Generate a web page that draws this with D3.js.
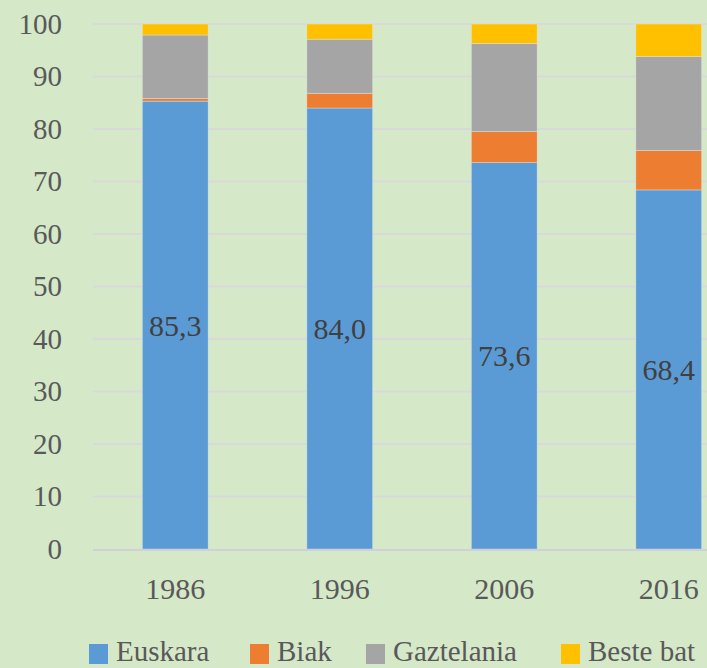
<!DOCTYPE html>
<html>
<head>
<meta charset="utf-8">
<script src="https://cdn.jsdelivr.net/npm/d3@7/dist/d3.min.js"></script>
<style>
    body { margin: 0; background: #d5e8c8; overflow: hidden; }
    svg { display: block; }
    text { font-family: "Liberation Serif", "DejaVu Serif", serif; }
</style>
</head>
<body>
<div id="chart"></div>
<script>
// data
const years = ["1986", "1996", "2006", "2016"];
const seriesNames = ["Euskara", "Biak", "Gaztelania", "Beste bat"];
const euskara = [85.3, 84.0, 73.6, 68.4];
const biak = [0.5, 2.8, 5.9, 7.5];
const gaztelania = [12.1, 10.3, 16.8, 17.9];
const besteBat = [2.1, 2.9, 3.7, 6.2];
const yTicks = [0, 10, 20, 30, 40, 50, 60, 70, 80, 90, 100];
const colors = ["#5b9bd5", "#ed7d31", "#a5a5a5", "#ffc000"];

const width = 707, height = 668;
const margin = { top: 24, left: 93, bottom: 119 };

const svg = d3.select("#chart").append("svg")
    .attr("width", width)
    .attr("height", height);

svg.append("rect")
    .attr("width", width)
    .attr("height", height)
    .attr("fill", "#d5e8c8");

const x = d3.scaleBand()
    .domain(years)
    .range([margin.left, margin.left + 658])
    .paddingInner(0.6)
    .paddingOuter(0.3);

const y = d3.scaleLinear()
    .domain([0, 100])
    .range([height - margin.bottom, margin.top]);

// gridlines
svg.append("g")
    .selectAll("line")
    .data(yTicks.filter(d => d > 0))
    .enter().append("line")
    .attr("x1", margin.left)
    .attr("x2", width)
    .attr("y1", d => y(d))
    .attr("y2", d => y(d))
    .attr("stroke", "#d9d9d9")
    .attr("stroke-width", 2);

// y axis labels
const yAxis = d3.axisLeft(y).tickValues(yTicks).tickSize(0).tickPadding(0);
svg.append("g")
    .attr("transform", "translate(62,0)")
    .call(yAxis)
    .call(g => g.select(".domain").remove())
    .selectAll("text")
    .attr("font-size", 29)
    .attr("fill", "#595959")
    .attr("dy", "0.32em");

// stacked data
const table = years.map((yr, i) => ({
    year: yr,
    "Euskara": euskara[i],
    "Biak": biak[i],
    "Gaztelania": gaztelania[i],
    "Beste bat": besteBat[i]
}));
const stacked = d3.stack().keys(seriesNames)(table);

svg.append("g")
    .selectAll("g")
    .data(stacked)
    .enter().append("g")
    .attr("fill", (d, i) => colors[i])
    .selectAll("rect")
    .data(d => d)
    .enter().append("rect")
    .attr("x", d => x(d.data.year))
    .attr("width", x.bandwidth())
    .attr("y", d => y(d[1]))
    .attr("height", d => y(d[0]) - y(d[1]))
    .attr("stroke", "#e8eef0")
    .attr("stroke-opacity", 0.5)
    .attr("stroke-width", 0.75);

// x axis line
svg.append("line")
    .attr("x1", margin.left)
    .attr("x2", width)
    .attr("y1", y(0) + 1)
    .attr("y2", y(0) + 1)
    .attr("stroke", "#d0d0d8")
    .attr("stroke-width", 2);

// x labels
const xAxis = d3.axisBottom(x).tickSize(0).tickPadding(0);
svg.append("g")
    .attr("transform", "translate(0," + (y(0) + 50) + ")")
    .call(xAxis)
    .call(g => g.select(".domain").remove())
    .selectAll("text")
    .attr("font-size", 30)
    .attr("fill", "#595959")
    .attr("dy", "0");

// data labels for Euskara
svg.append("g")
    .selectAll("text")
    .data(stacked[0])
    .enter().append("text")
    .attr("x", d => x(d.data.year) + x.bandwidth() / 2)
    .attr("y", d => (y(d[0]) + y(d[1])) / 2)
    .attr("dy", "0.35em")
    .attr("text-anchor", "middle")
    .attr("font-size", 30)
    .attr("fill", "#404040")
    .text(d => d3.format(".1f")(d[1] - d[0]).replace(".", ","));

// legend
const legendX = [89, 250, 366, 561];
const legend = svg.append("g")
    .selectAll("g")
    .data(seriesNames)
    .enter().append("g")
    .attr("transform", (d, i) => "translate(" + legendX[i] + ",652)");

legend.append("rect")
    .attr("y", -8)
    .attr("width", 19)
    .attr("height", 20)
    .attr("fill", (d, i) => colors[i]);

legend.append("text")
    .attr("x", 27)
    .attr("y", 0)
    .attr("dy", "0.3em")
    .attr("font-size", 29)
    .attr("fill", "#595959")
    .text(d => d);
</script>
</body>
</html>
